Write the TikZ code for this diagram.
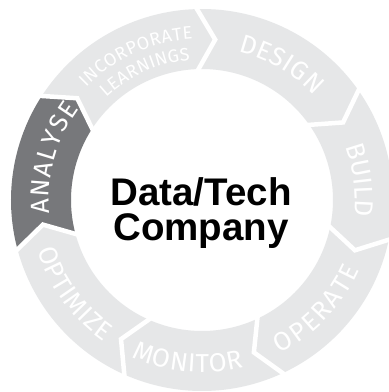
\documentclass[tikz,border=0pt]{standalone}
\usepackage{fontspec}
\setmainfont{Liberation Sans}
\newfontfamily\ringfont{Fira Sans}
\usetikzlibrary{decorations.text}
\definecolor{segLight}{HTML}{E6E7E8}
\definecolor{segDark}{HTML}{77787B}
\newcommand\Ro{191}
\newcommand\Ri{131}
\newcommand\Rm{161}
\newcommand\dl{6.2}
\newcommand\ringseg[3]{%
  \fill[#3] (#1:\Ro) arc[start angle=#1, end angle=#2, radius=\Ro]
    -- ({#2-\dl}:\Rm) -- (#2:\Ri)
    arc[start angle=#2, end angle=#1, radius=\Ri]
    -- ({#1-\dl}:\Rm) -- cycle;}
\newcommand\ringcut[1]{%
  \draw[cutline] (#1:\Ro) -- ({#1-\dl}:\Rm) -- (#1:\Ri);}
\newcommand\arctext[5]{% radius, from, to, size, text
  \path[decorate, font=\fontsize{#4}{#4}\ringfont, decoration={text along path,
    text={|\fontsize{#4pt}{#4pt}\selectfont\ringfont\color{white}|#5},
    text align={fit to path}}]
    (#2:#1) arc[start angle=#2, end angle=#3, radius=#1];}
\begin{document}
\begin{tikzpicture}[x=1pt,y=1pt,
  cutline/.style={white, line width=4.5pt, line join=miter, shorten <=-6pt, shorten >=-6pt},
  titletext/.style={font=\bfseries\fontsize{38.5}{38.5}\selectfont, anchor=base, inner sep=0pt}]
\useasboundingbox (-202,-192) rectangle (187,200);
\fill[white] (-202,-192) rectangle (187,200);
% segments
\ringseg{91.5}{35}{segLight}
\ringseg{35}{-12}{segLight}
\ringseg{-12}{-65}{segLight}
\ringseg{-65}{-114}{segLight}
\ringseg{-114}{-165}{segLight}
\ringseg{-165}{-213}{segDark}
\ringseg{147}{91.5}{segLight}
% gaps
\ringcut{91.5}
\ringcut{35}
\ringcut{-12}
\ringcut{-65}
\ringcut{-114}
\ringcut{-165}
\ringcut{147}
% labels
\arctext{153}{76.3}{43.1}{26}{DESIGN}
\arctext{153}{20.3}{-5.6}{26}{BUILD}
\arctext{172}{296.9}{336}{26}{OPERATE}
\arctext{172}{245.8}{284}{26}{MONITOR}
\arctext{172}{197}{235.3}{26}{OPTIMIZE}
\arctext{153}{185.1}{143.3}{26}{ANALYSE}
\arctext{161.5}{135.9}{93.3}{18}{INCORPORATE}
\arctext{140.5}{133}{94.8}{18}{LEARNINGS}
% centre
\node[titletext] (line1) at (-1,-5) {Data/Tech};
\node[titletext] (line2) at (-1,-40) {Company};
\end{tikzpicture}
\end{document}
